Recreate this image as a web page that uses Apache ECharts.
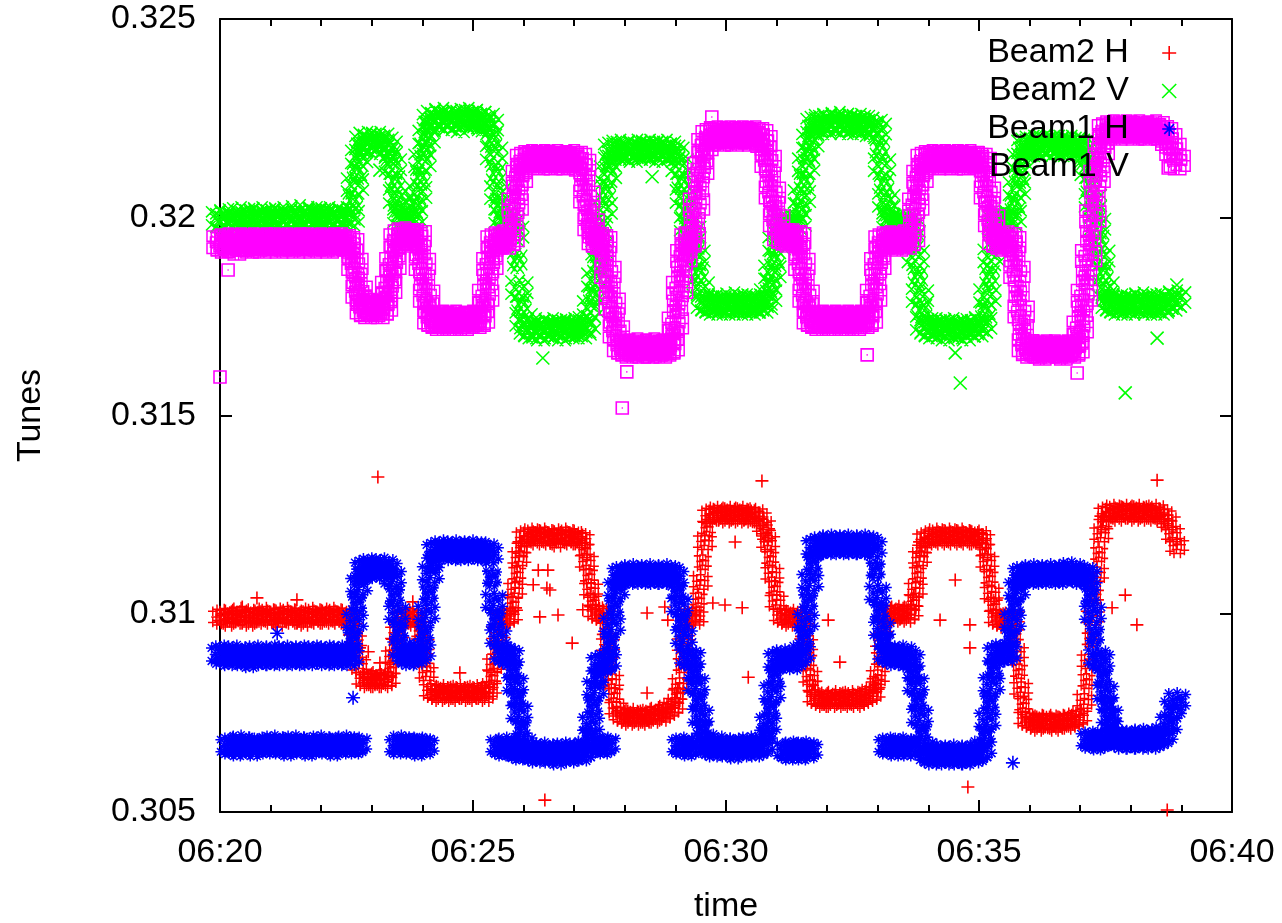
<!DOCTYPE html>
<html><head><meta charset="utf-8">
<script src="https://cdn.jsdelivr.net/npm/echarts@6/dist/echarts.min.js"></script>
<style>html,body{margin:0;padding:0;background:#fff}#c{width:1282px;height:923px}</style>
</head><body><div id="c"></div>
<script>
// ---- data (time base: samples every 5 s starting 06:20:00; x in minutes after 06:20) ----
const seriesNames = ['Beam2 H', 'Beam2 V', 'Beam1 H', 'Beam1 V'];
const xTickLabels = ['06:20', '06:25', '06:30', '06:35', '06:40'];
const sampleStepMin = 5 / 60;

// Beam2 V (green)
const b2v = [
0.31995,0.31990,0.32000,0.31985,0.31995,0.32005,0.31990,0.31995,0.32000,0.31990,0.32005,0.31995,
0.31990,0.32000,0.31995,0.32005,0.31990,0.32000,0.31995,0.32010,0.31995,0.32000,0.31990,0.32005,
0.32000,0.31995,0.32005,0.31990,0.32000,0.31995,0.32005,0.32000,0.32080,0.32150,0.32185,0.32195,
0.32190,0.32180,0.32195,0.32185,0.32175,0.32130,0.32050,0.32000,0.31995,0.31990,0.32000,0.32060,
0.32140,0.32200,0.32240,0.32250,0.32245,0.32255,0.32240,0.32250,0.32245,0.32235,0.32250,0.32255,
0.32245,0.32250,0.32240,0.32245,0.32230,0.32160,0.32060,0.32000,0.31985,0.31980,0.31960,0.31820,
0.31740,0.31720,0.31715,0.31725,0.31710,0.31720,0.31715,0.31725,0.31720,0.31710,0.31720,0.31715,
0.31725,0.31720,0.31715,0.31730,0.31770,0.31840,0.31920,0.32020,0.32110,0.32165,0.32170,0.32175,
0.32165,0.32170,0.32160,0.32175,0.32170,0.32165,0.32175,0.32170,0.32160,0.32170,0.32175,0.32165,
0.32160,0.32130,0.32050,0.31980,0.31960,0.31900,0.31820,0.31785,0.31780,0.31775,0.31785,0.31780,
0.31775,0.31780,0.31790,0.31775,0.31780,0.31785,0.31775,0.31780,0.31785,0.31780,0.31800,0.31860,
0.31930,0.31980,0.31985,0.31975,0.31980,0.31990,0.32050,0.32130,0.32190,0.32230,0.32235,0.32240,
0.32230,0.32240,0.32235,0.32245,0.32230,0.32240,0.32235,0.32230,0.32240,0.32235,0.32225,0.32230,
0.32220,0.32130,0.32040,0.31990,0.31985,0.31980,0.31990,0.31985,0.31975,0.31900,0.31800,0.31730,
0.31720,0.31715,0.31725,0.31720,0.31710,0.31720,0.31725,0.31715,0.31720,0.31710,0.31720,0.31725,
0.31720,0.31730,0.31800,0.31900,0.31985,0.31990,0.31995,0.31990,0.32000,0.32070,0.32140,0.32175,
0.32180,0.32185,0.32175,0.32180,0.32190,0.32180,0.32175,0.32185,0.32180,0.32175,0.32185,0.32180,
0.32180,0.32170,0.32120,0.32040,0.31980,0.31900,0.31820,0.31785,0.31780,0.31775,0.31785,0.31780,
0.31775,0.31785,0.31780,0.31790,0.31775,0.31780,0.31785,0.31775,0.31780,0.31790,0.31785,0.31795
];

// Beam1 V (magenta)
const b1v = [
0.31935,0.31930,0.31940,0.31935,0.31925,0.31940,0.31935,0.31930,0.31940,0.31935,0.31930,0.31940,
0.31935,0.31940,0.31930,0.31935,0.31940,0.31935,0.31930,0.31940,0.31935,0.31940,0.31930,0.31935,
0.31940,0.31935,0.31930,0.31940,0.31935,0.31940,0.31935,0.31930,0.31880,0.31810,0.31770,0.31765,
0.31775,0.31770,0.31765,0.31775,0.31820,0.31880,0.31940,0.31950,0.31955,0.31950,0.31945,0.31950,
0.31880,0.31800,0.31745,0.31740,0.31735,0.31745,0.31740,0.31735,0.31745,0.31740,0.31735,0.31740,
0.31745,0.31740,0.31745,0.31800,0.31880,0.31935,0.31940,0.31945,0.31940,0.31950,0.32030,0.32100,
0.32140,0.32145,0.32150,0.32145,0.32140,0.32150,0.32145,0.32140,0.32150,0.32145,0.32140,0.32145,
0.32150,0.32145,0.32130,0.32050,0.31980,0.31945,0.31940,0.31935,0.31860,0.31780,0.31710,0.31675,
0.31670,0.31665,0.31670,0.31675,0.31665,0.31670,0.31665,0.31675,0.31670,0.31665,0.31670,0.31675,
0.31730,0.31820,0.31900,0.31940,0.31945,0.32030,0.32120,0.32180,0.32200,0.32205,0.32210,0.32200,
0.32205,0.32210,0.32200,0.32205,0.32210,0.32205,0.32200,0.32210,0.32205,0.32190,0.32140,0.32060,
0.31990,0.31955,0.31950,0.31945,0.31950,0.31945,0.31880,0.31800,0.31745,0.31740,0.31735,0.31745,
0.31740,0.31735,0.31745,0.31740,0.31735,0.31745,0.31740,0.31735,0.31745,0.31740,0.31745,0.31800,
0.31880,0.31935,0.31940,0.31945,0.31940,0.31935,0.31945,0.31940,0.31950,0.32030,0.32100,0.32140,
0.32145,0.32150,0.32140,0.32145,0.32150,0.32145,0.32140,0.32150,0.32145,0.32140,0.32150,0.32145,
0.32145,0.32135,0.32060,0.31990,0.31945,0.31940,0.31935,0.31945,0.31935,0.31860,0.31760,0.31675,
0.31665,0.31670,0.31665,0.31660,0.31670,0.31665,0.31670,0.31665,0.31660,0.31670,0.31665,0.31670,
0.31720,0.31800,0.31900,0.32000,0.32100,0.32170,0.32215,0.32220,0.32225,0.32215,0.32220,0.32225,
0.32220,0.32215,0.32225,0.32220,0.32215,0.32220,0.32225,0.32215,0.32210,0.32195,0.32170,0.32140
];

// Beam2 H (red)
const b2h = [
0.30990,0.30995,0.30985,0.30995,0.30990,0.31000,0.30990,0.30985,0.30995,0.30990,0.30995,0.31000,
0.30990,0.30995,0.30985,0.30995,0.31000,0.30990,0.30995,0.30990,0.30985,0.30995,0.31000,0.30990,
0.30995,0.30990,0.30995,0.31000,0.30990,0.30995,0.30990,0.30985,0.30930,0.30870,0.30835,0.30830,
0.30835,0.30830,0.30840,0.30830,0.30835,0.30890,0.30950,0.30985,0.30990,0.30995,0.30985,0.30990,
0.30920,0.30850,0.30805,0.30800,0.30795,0.30805,0.30800,0.30795,0.30800,0.30805,0.30800,0.30795,
0.30800,0.30805,0.30800,0.30795,0.30810,0.30870,0.30950,0.30985,0.30990,0.30995,0.31060,0.31140,
0.31190,0.31195,0.31200,0.31190,0.31195,0.31200,0.31190,0.31195,0.31185,0.31195,0.31200,0.31190,
0.31195,0.31190,0.31185,0.31130,0.31060,0.31005,0.31000,0.30995,0.30920,0.30830,0.30760,0.30745,
0.30740,0.30735,0.30745,0.30740,0.30735,0.30740,0.30745,0.30740,0.30750,0.30745,0.30755,0.30760,
0.30770,0.30820,0.30920,0.30990,0.30995,0.30990,0.31080,0.31180,0.31245,0.31250,0.31255,0.31250,
0.31245,0.31255,0.31250,0.31245,0.31255,0.31250,0.31245,0.31250,0.31240,0.31220,0.31180,0.31100,
0.31030,0.30995,0.30990,0.30985,0.30995,0.30990,0.30985,0.30920,0.30840,0.30790,0.30785,0.30780,
0.30785,0.30780,0.30790,0.30785,0.30780,0.30785,0.30790,0.30780,0.30785,0.30790,0.30795,0.30800,
0.30840,0.30930,0.30995,0.31000,0.30995,0.31005,0.31000,0.30995,0.31005,0.31060,0.31140,0.31185,
0.31190,0.31195,0.31200,0.31190,0.31195,0.31200,0.31190,0.31195,0.31200,0.31190,0.31195,0.31190,
0.31195,0.31185,0.31130,0.31050,0.30990,0.30985,0.30980,0.30985,0.30990,0.30900,0.30810,0.30735,
0.30730,0.30725,0.30720,0.30730,0.30725,0.30730,0.30720,0.30725,0.30730,0.30725,0.30730,0.30735,
0.30740,0.30780,0.30880,0.30990,0.31100,0.31200,0.31250,0.31255,0.31260,0.31250,0.31255,0.31260,
0.31255,0.31250,0.31260,0.31255,0.31250,0.31255,0.31260,0.31250,0.31245,0.31230,0.31200,0.31170
];

// Beam1 H (blue), main branch
const b1h = [
0.30895,0.30900,0.30890,0.30895,0.30900,0.30890,0.30895,0.30885,0.30895,0.30900,0.30890,0.30895,
0.30890,0.30900,0.30895,0.30890,0.30900,0.30895,0.30890,0.30895,0.30900,0.30890,0.30895,0.30900,
0.30895,0.30890,0.30900,0.30895,0.30890,0.30900,0.30895,0.30890,0.30980,0.31070,0.31110,0.31115,
0.31120,0.31110,0.31115,0.31120,0.31110,0.31090,0.31000,0.30910,0.30895,0.30890,0.30900,0.30895,
0.30905,0.31000,0.31100,0.31155,0.31160,0.31165,0.31160,0.31155,0.31165,0.31160,0.31155,0.31160,
0.31165,0.31160,0.31155,0.31160,0.31150,0.31030,0.30940,0.30900,0.30895,0.30890,0.30820,0.30750,
0.30670,0.30655,0.30650,0.30645,0.30650,0.30655,0.30645,0.30650,0.30640,0.30650,0.30655,0.30645,
0.30650,0.30655,0.30650,0.30660,0.30720,0.30810,0.30870,0.30875,0.30880,0.30970,0.31060,0.31095,
0.31100,0.31095,0.31105,0.31100,0.31095,0.31100,0.31105,0.31095,0.31100,0.31095,0.31105,0.31100,
0.31090,0.31020,0.30940,0.30890,0.30885,0.30820,0.30740,0.30680,0.30665,0.30660,0.30665,0.30670,
0.30660,0.30665,0.30655,0.30665,0.30660,0.30665,0.30670,0.30660,0.30665,0.30670,0.30720,0.30800,
0.30880,0.30885,0.30890,0.30885,0.30880,0.30890,0.30900,0.30980,0.31080,0.31165,0.31170,0.31175,
0.31170,0.31180,0.31175,0.31170,0.31175,0.31180,0.31170,0.31175,0.31170,0.31180,0.31175,0.31165,
0.31050,0.30960,0.30900,0.30895,0.30890,0.30895,0.30900,0.30890,0.30880,0.30820,0.30740,0.30660,
0.30645,0.30640,0.30650,0.30645,0.30640,0.30645,0.30650,0.30640,0.30645,0.30640,0.30650,0.30645,
0.30650,0.30660,0.30730,0.30820,0.30895,0.30900,0.30905,0.30900,0.30980,0.31060,0.31095,0.31100,
0.31095,0.31105,0.31100,0.31095,0.31100,0.31105,0.31100,0.31095,0.31100,0.31105,0.31110,0.31100,
0.31095,0.31100,0.31090,0.31000,0.30890,0.30880,0.30800,0.30740,0.30690,0.30685,0.30680,0.30685,
0.30680,0.30685,0.30680,0.30690,0.30685,0.30680,0.30685,0.30690,0.30695,0.30720,0.30760,0.30780
];

// Beam1 H (blue), second (lower) branch, same 5 s time base; null = no point
const b1hLow = [
null,null,0.30665,0.30670,0.30660,0.30675,0.30665,0.30670,0.30660,null,0.30670,0.30665,
0.30670,0.30675,0.30665,0.30670,0.30660,0.30670,0.30675,0.30665,0.30670,0.30660,0.30665,0.30670,
0.30675,0.30665,0.30670,0.30660,0.30670,0.30665,0.30675,0.30670,0.30665,0.30670,null,null,
null,null,null,null,null,null,0.30665,0.30675,0.30670,0.30665,0.30670,0.30660,
0.30670,0.30665,null,null,null,null,null,null,null,null,null,null,
null,null,null,null,null,null,0.30665,0.30660,0.30670,0.30660,0.30655,0.30650,
null,null,null,null,null,null,null,null,null,null,null,null,
null,null,null,null,null,null,0.30670,0.30665,0.30670,null,null,null,
null,null,null,null,null,null,null,null,null,null,null,null,
null,0.30665,0.30670,0.30660,0.30665,null,null,null,null,null,null,null,
null,null,null,null,null,null,null,null,null,null,null,null,
null,null,0.30655,0.30650,0.30660,0.30655,0.30650,0.30660,0.30655,null,null,null,
null,null,null,null,null,null,null,null,null,null,null,null,
null,null,0.30665,0.30670,0.30660,0.30665,0.30670,0.30660,0.30665,null,null,null,
null,null,null,null,null,null,null,null,null,null,null,null,
null,null,null,null,null,null,null,null,null,null,null,null,
null,null,null,null,null,null,null,null,null,null,null,null,
null,null,0.30680,0.30685,0.30675,0.30680,0.30685,null,null,null,null,null,
null,null,null,null,null,null,null,null,null,null,null,null
];

// extra readings on the transitions: [position on the 5 s sample grid, tune]
const b2hRamp = [
[31.5,0.30960],[32.5,0.30900],[40.5,0.30860],[41.5,0.30920],[47.5,0.30955],[48.5,0.30885],
[64.5,0.30840],[65.5,0.30910],[69.5,0.31025],[70.5,0.31100],[71.5,0.31165],
[86.5,0.31160],[87.5,0.31095],[88.5,0.31030],[91.5,0.30960],[92.5,0.30875],[93.5,0.30795],
[108.5,0.30795],[109.5,0.30870],[110.5,0.30955],[113.5,0.31035],[114.5,0.31130],[115.5,0.31215],
[129.5,0.31200],[130.5,0.31140],[131.5,0.31065],[138.5,0.30955],[139.5,0.30880],[140.5,0.30815],
[155.5,0.30820],[156.5,0.30885],[157.5,0.30965],[164.5,0.31030],[165.5,0.31100],[166.5,0.31165],
[181.5,0.31160],[182.5,0.31090],[183.5,0.31020],[188.5,0.30945],[189.5,0.30855],[190.5,0.30770],
[205.5,0.30830],[206.5,0.30935],[207.5,0.31045],[208.5,0.31150],[209.5,0.31230]
];
const b1hRamp = [
[31.5,0.30935],[32.5,0.31025],[33.5,0.31095],[41.5,0.31045],[42.5,0.30955],
[48.5,0.30950],[49.5,0.31050],[50.5,0.31130],[64.5,0.31090],[65.5,0.30985],
[69.5,0.30855],[70.5,0.30785],[71.5,0.30710],[87.5,0.30690],[88.5,0.30765],[89.5,0.30840],
[92.5,0.30925],[93.5,0.31015],[94.5,0.31080],[108.5,0.31055],[109.5,0.30980],
[112.5,0.30850],[113.5,0.30780],[114.5,0.30710],[129.5,0.30695],[130.5,0.30760],[131.5,0.30840],
[138.5,0.30940],[139.5,0.31030],[140.5,0.31125],[155.5,0.31110],[156.5,0.31005],[157.5,0.30930],
[164.5,0.30850],[165.5,0.30780],[166.5,0.30700],[181.5,0.30695],[182.5,0.30775],[183.5,0.30860],
[187.5,0.30940],[188.5,0.31020],[189.5,0.31080],[206.5,0.31045],[207.5,0.30945],
[209.5,0.30840],[210.5,0.30770],[211.5,0.30715]
];
const b2vRamp = [
[31.5,0.32040],[32.5,0.32115],[33.5,0.32170],[40.5,0.32155],[41.5,0.32090],[42.5,0.32025],
[46.5,0.32030],[47.5,0.32100],[48.5,0.32170],[49.5,0.32225],[64.5,0.32195],[65.5,0.32110],[66.5,0.32030],
[70.5,0.31890],[71.5,0.31780],[88.5,0.31805],[89.5,0.31880],[90.5,0.31970],[91.5,0.32065],[92.5,0.32140],
[109.5,0.32090],[110.5,0.32015],[112.5,0.31930],[113.5,0.31860],
[130.5,0.31830],[131.5,0.31895],[132.5,0.31955],[137.5,0.32020],[138.5,0.32090],[139.5,0.32160],[140.5,0.32215],
[156.5,0.32175],[157.5,0.32085],[158.5,0.32015],[164.5,0.31940],[165.5,0.31850],[166.5,0.31765],
[181.5,0.31765],[182.5,0.31850],[183.5,0.31945],[188.5,0.32035],[189.5,0.32105],[190.5,0.32160],
[205.5,0.32145],[206.5,0.32080],[207.5,0.32010],[208.5,0.31940],[209.5,0.31860],[210.5,0.31800]
];
const b1vRamp = [
[31.5,0.31905],[32.5,0.31845],[33.5,0.31790],[39.5,0.31795],[40.5,0.31850],[41.5,0.31910],
[47.5,0.31915],[48.5,0.31840],[49.5,0.31770],[62.5,0.31770],[63.5,0.31840],[64.5,0.31910],
[69.5,0.31990],[70.5,0.32065],[71.5,0.32120],[86.5,0.32090],[87.5,0.32015],[88.5,0.31960],
[91.5,0.31900],[92.5,0.31820],[93.5,0.31745],[107.5,0.31700],[108.5,0.31775],[109.5,0.31860],[110.5,0.31920],
[112.5,0.31985],[113.5,0.32075],[114.5,0.32150],[129.5,0.32165],[130.5,0.32100],[131.5,0.32025],
[137.5,0.31915],[138.5,0.31840],[139.5,0.31770],[154.5,0.31770],[155.5,0.31840],[156.5,0.31910],
[164.5,0.31990],[165.5,0.32065],[166.5,0.32120],[181.5,0.32100],[182.5,0.32025],[183.5,0.31965],
[188.5,0.31900],[189.5,0.31810],[190.5,0.31715],
[203.5,0.31690],[204.5,0.31760],[205.5,0.31850],[206.5,0.31950],[207.5,0.32050],[208.5,0.32135],[209.5,0.32195]
];

// isolated points: [minutes after 06:20, tune]
const b2hOut = [
[0.73,0.31040],[1.52,0.31035],[0.44,0.31017],[3.12,0.31345],[2.93,0.30904],[3.16,0.30876],
[3.81,0.31030],[4.74,0.30851],[6.29,0.31110],[6.48,0.31110],[6.19,0.31073],[6.46,0.31065],
[6.52,0.31060],[6.32,0.30992],[6.68,0.30997],[6.96,0.30926],[6.42,0.30530],[7.17,0.31010],
[8.44,0.31002],[8.79,0.31017],[8.85,0.30984],[8.44,0.30800],[9.74,0.31027],[9.98,0.31022],
[10.32,0.31015],[10.44,0.30840],[10.18,0.31181],[10.71,0.31335],[12.02,0.30984],[12.25,0.30878],
[14.23,0.30984],[14.53,0.31085],[14.82,0.30972],[14.82,0.30914],[14.78,0.30563],[17.63,0.31015],
[17.89,0.31047],[18.12,0.30972],[18.52,0.31337],[18.72,0.30505]
];
const b2vOut = [
[1.94,0.32018],[3.16,0.32119],[6.38,0.31645],[8.54,0.32102],[14.53,0.31658],[14.63,0.31582],
[17.89,0.31557],[18.52,0.31695],[18.91,0.31829]
];
const b1hOut = [[1.13,0.30951],[2.63,0.30788],[15.67,0.30624]];
const b1vOut = [
[0.00,0.31597],[0.16,0.31867],[7.95,0.31519],[8.04,0.31610],[9.72,0.32253],[12.79,0.31653],[16.94,0.31607]
];

// ---- chart ----
const toPts = arr => arr.map((v, i) => v == null ? null : [i * sampleStepMin, v]).filter(p => p);
const gridPts = arr => arr.map(([pos, v]) => [pos * sampleStepMin, v]);

// single marks (gnuplot point types) and dense "cloud" marks drawn for each band sample
const MARK = {
  plus: (x, y, h) => `M${x},${y - h}L${x},${y + h}M${x - h},${y}L${x + h},${y}`,
  cross: (x, y, h) => `M${x - h},${y - h}L${x + h},${y + h}M${x + h},${y - h}L${x - h},${y + h}`,
  star: (x, y, h) => `M${x},${y - h}L${x},${y + h}M${x - h},${y}L${x + h},${y}M${x - 0.7 * h},${y - 0.7 * h}L${x + 0.7 * h},${y + 0.7 * h}M${x + 0.7 * h},${y - 0.7 * h}L${x - 0.7 * h},${y + 0.7 * h}`,
  square: (x, y, h) => `M${x - h},${y - h}L${x + h},${y - h}L${x + h},${y + h}L${x - h},${y + h}ZM${x - 0.6},${y}L${x + 0.6},${y}`
};
const CLOUD = [[6,7],[15,6],[24,8],[10,14],[20,13],[6,21],[14,19],[24,20],[11,24],[19,24],[15,12]];
const single = k => 'path://' + MARK[k](6, 6, 6);
const cloud = k => 'path://' + CLOUD.map(([x, y]) => MARK[k](x, y, 6)).join('');
const KIND = { 'Beam2 H': 'plus', 'Beam2 V': 'cross', 'Beam1 H': 'star', 'Beam1 V': 'square' };
const COL = { 'Beam2 H': '#ff0000', 'Beam2 V': '#00ff00', 'Beam1 H': '#0000ff', 'Beam1 V': '#ff00ff' };

function sc(name, data, size, dense) {
  return {
    type: 'scatter', name, data,
    symbol: dense ? cloud(KIND[name]) : single(KIND[name]), symbolSize: size,
    itemStyle: { color: 'rgba(0,0,0,0)', borderColor: COL[name], borderWidth: dense ? 1.5 : 1.6, opacity: 1 },
    emphasis: { disabled: true }, animation: false
  };
}
const FONT = 'Liberation Sans, Arial, Helvetica, sans-serif';
const axisLine = { show: true, onZero: false, lineStyle: { color: '#000', width: 2 } };
const tickStyle = { color: '#000', width: 2 };
const chart = echarts.init(document.getElementById('c'), null, { renderer: 'canvas' });
chart.setOption({
  animation: false,
  backgroundColor: '#fff',
  grid: { left: 220, right: 50, top: 19, bottom: 111, containLabel: false, outerBoundsMode: 'none' },
  legend: {
    data: seriesNames.map(n => ({ name: n, icon: single(KIND[n]),
      itemStyle: { color: 'rgba(0,0,0,0)', borderColor: COL[n], borderWidth: 1.6 } })),
    orient: 'vertical', align: 'right', right: 100, top: 31,
    itemWidth: 14, itemHeight: 14, itemGap: 4, selectedMode: false,
    formatter: n => n + '   ',
    textStyle: { fontSize: 34, fontFamily: FONT, color: '#000' }
  },
  xAxis: [{
    type: 'value', position: 'bottom', min: 0, max: 20, interval: 5,
    name: 'time', nameLocation: 'middle', nameGap: 78,
    nameTextStyle: { fontSize: 34, fontFamily: FONT, color: '#000' },
    axisLine, splitLine: { show: false },
    axisTick: { inside: true, length: 12, lineStyle: tickStyle },
    minorTick: { show: true, splitNumber: 5, length: 7, lineStyle: tickStyle },
    axisLabel: { fontSize: 34, fontFamily: FONT, color: '#000', margin: 24,
      formatter: v => xTickLabels[Math.round(v / 5)] }
  }, {
    type: 'value', position: 'top', min: 0, max: 20, interval: 5,
    axisLine, splitLine: { show: false }, axisLabel: { show: false },
    axisTick: { inside: true, length: 12, lineStyle: tickStyle },
    minorTick: { show: true, splitNumber: 5, length: 7, lineStyle: tickStyle }
  }],
  yAxis: [{
    type: 'value', position: 'left', min: 0.305, max: 0.325, interval: 0.005,
    name: 'Tunes', nameLocation: 'middle', nameGap: 172, nameRotate: 90,
    nameTextStyle: { fontSize: 34, fontFamily: FONT, color: '#000' },
    axisLine, splitLine: { show: false },
    axisTick: { inside: true, length: 12, lineStyle: tickStyle },
    axisLabel: { fontSize: 34, fontFamily: FONT, color: '#000', margin: 24 }
  }, {
    type: 'value', position: 'right', min: 0.305, max: 0.325, interval: 0.005,
    axisLine, splitLine: { show: false }, axisLabel: { show: false },
    axisTick: { inside: true, length: 12, lineStyle: tickStyle }
  }],
  series: [
    sc('Beam2 H', b2hOut, 13, false),
    sc('Beam2 H', toPts(b2h), 24, true),
    sc('Beam2 H', gridPts(b2hRamp), [18, 24], true),
    sc('Beam2 V', b2vOut, 13, false),
    sc('Beam2 V', toPts(b2v), 28, true),
    sc('Beam2 V', gridPts(b2vRamp), [20, 26], true),
    sc('Beam1 H', b1hOut, 14, false),
    sc('Beam1 H', toPts(b1h), 28, true),
    sc('Beam1 H', toPts(b1hLow), 26, true),
    sc('Beam1 H', gridPts(b1hRamp), [20, 26], true),
    sc('Beam1 V', b1vOut, 12, false),
    sc('Beam1 V', toPts(b1v), 26, true),
    sc('Beam1 V', gridPts(b1vRamp), [20, 24], true)
  ]
});
</script>
</body></html>
